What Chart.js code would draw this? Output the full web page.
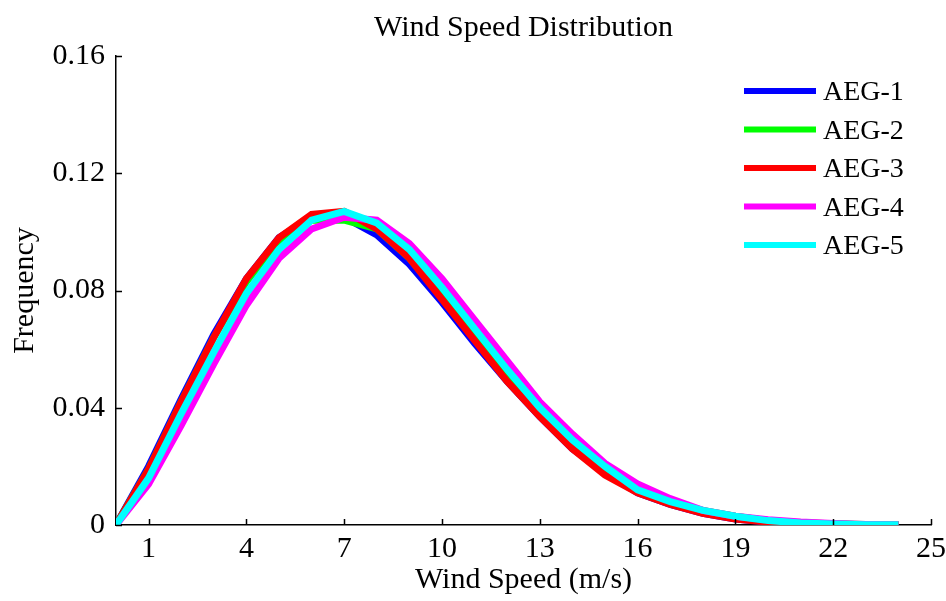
<!DOCTYPE html>
<html>
<head>
<meta charset="utf-8">
<script src="https://cdn.jsdelivr.net/npm/chart.js@4"></script>
<style>
  html, body { margin: 0; padding: 0; background: #fff; }
  #wrap { width: 946px; height: 601px; }
</style>
</head>
<body>
<div id="wrap"><canvas id="windChart" width="946" height="601"></canvas></div>
<script>
// ===== Data =====
const windSpeed = [0, 1, 2, 3, 4, 5, 6, 7, 8, 9, 10, 11, 12, 13, 14, 15, 16, 17, 18, 19, 20, 21, 22, 23, 24];
const aeg1 = [0, 0.020, 0.043, 0.065, 0.084, 0.098, 0.105, 0.105, 0.099, 0.089, 0.076, 0.062, 0.049, 0.037, 0.026, 0.018, 0.011, 0.007, 0.004, 0.002, 0.001, 0.0006, 0.0003, 0.0001, 0.0001];
const aeg2 = [0, 0.019, 0.042, 0.064, 0.083, 0.097, 0.104, 0.104, 0.101, 0.091, 0.078, 0.064, 0.051, 0.039, 0.028, 0.019, 0.013, 0.008, 0.005, 0.003, 0.0015, 0.0008, 0.0004, 0.0002, 0.0001];
const aeg3 = [0, 0.019, 0.042, 0.064, 0.084, 0.098, 0.106, 0.107, 0.101, 0.091, 0.077, 0.063, 0.049, 0.037, 0.026, 0.017, 0.011, 0.007, 0.004, 0.002, 0.001, 0.0005, 0.0002, 0.0001, 0];
const aeg4 = [0, 0.014, 0.034, 0.055, 0.075, 0.091, 0.101, 0.105, 0.104, 0.096, 0.084, 0.070, 0.056, 0.042, 0.031, 0.021, 0.014, 0.009, 0.005, 0.003, 0.0018, 0.001, 0.0005, 0.0002, 0.0001];
const aeg5 = [0, 0.016, 0.038, 0.059, 0.079, 0.094, 0.104, 0.107, 0.103, 0.094, 0.081, 0.067, 0.053, 0.040, 0.029, 0.020, 0.012, 0.008, 0.005, 0.003, 0.0015, 0.0007, 0.0003, 0.0001, 0.0001];

const seriesNames = ["AEG-1", "AEG-2", "AEG-3", "AEG-4", "AEG-5"];
const seriesData = [aeg1, aeg2, aeg3, aeg4, aeg5];
const seriesColors = ["#0000ff", "#00ff00", "#ff0000", "#ff00ff", "#00ffff"];

const xTicks = [1, 4, 7, 10, 13, 16, 19, 22, 25];
const yTicks = [0, 0.04, 0.08, 0.12, 0.16];

const serif = "'Liberation Serif', 'Times New Roman', serif";

// ===== Datasets =====
const datasets = seriesData.map((vals, i) => ({
  label: seriesNames[i],
  data: vals.map((v, j) => ({ x: windSpeed[j], y: v })),
  borderColor: seriesColors[i],
  backgroundColor: seriesColors[i],
  borderWidth: 7,
  pointRadius: 0,
  tension: 0,
  fill: false,
  order: seriesNames.length - i   // last series drawn on top
}));

// Title, inward ticks and legend drawn on the canvas
const decorPlugin = {
  id: "decor",
  afterDraw(chart) {
    const c = chart.ctx;
    const area = chart.chartArea;
    const xs = chart.scales.x;
    const ys = chart.scales.y;

    c.save();
    // title
    c.fillStyle = "#000";
    c.font = "30px " + serif;
    c.textAlign = "center";
    c.textBaseline = "middle";
    c.fillText("Wind Speed Distribution", (area.left + area.right) / 2, 28);

    // inward ticks
    c.strokeStyle = "#000";
    c.lineWidth = 1.5;
    c.beginPath();
    xTicks.forEach(v => {
      const px = Math.round(xs.getPixelForValue(v)) + 0.5;
      c.moveTo(px, area.bottom);
      c.lineTo(px, area.bottom - 6);
    });
    yTicks.forEach(v => {
      const py = Math.round(ys.getPixelForValue(v)) + 0.5;
      c.moveTo(area.left, py);
      c.lineTo(area.left + 6, py);
    });
    c.stroke();

    // legend
    c.font = "28px " + serif;
    c.textAlign = "left";
    c.textBaseline = "middle";
    seriesNames.forEach((name, i) => {
      const y = 91 + i * 38.5;
      c.strokeStyle = seriesColors[i];
      c.lineWidth = 6;
      c.beginPath();
      c.moveTo(744, y);
      c.lineTo(816, y);
      c.stroke();
      c.fillStyle = "#000";
      c.fillText(name, 823, y + 2);
    });
    c.restore();
  }
};

const ctx = document.getElementById("windChart").getContext("2d");
const windChart = new Chart(ctx, {
  type: "line",
  data: { datasets },
  options: {
    responsive: false,
    animation: false,
    layout: { padding: { top: 56, right: 15, left: 0, bottom: 0 } },
    plugins: {
      legend: { display: false },
      title: { display: false },
      tooltip: { enabled: false }
    },
    scales: {
      x: {
        type: "linear",
        min: 0,
        max: 25,
        afterBuildTicks: axis => { axis.ticks = xTicks.map(v => ({ value: v })); },
        afterFit: axis => {
          axis.height = 76;
          axis.paddingLeft = 0;
          axis.paddingRight = 0;
        },
        grid: { drawOnChartArea: false, drawTicks: false },
        border: { color: "#000", width: 1.5 },
        ticks: {
          color: "#000",
          padding: 6,
          maxRotation: 0,
          autoSkip: false,
          font: { family: serif, size: 30 },
          callback: v => String(v)
        },
        title: {
          display: true,
          text: "Wind Speed (m/s)",
          color: "#000",
          padding: { top: 0, bottom: 3 },
          font: { family: serif, size: 30 }
        }
      },
      y: {
        min: 0,
        max: 0.16,
        afterBuildTicks: axis => { axis.ticks = yTicks.map(v => ({ value: v })); },
        afterFit: axis => { axis.width = 116; },
        grid: { drawOnChartArea: false, drawTicks: false },
        border: { color: "#000", width: 1.5 },
        ticks: {
          color: "#000",
          padding: 11,
          font: { family: serif, size: 30 },
          callback: v => String(parseFloat(v.toFixed(2)))
        },
        title: {
          display: true,
          text: "Frequency",
          color: "#000",
          padding: { top: 7, bottom: 0 },
          font: { family: serif, size: 30 }
        }
      }
    }
  },
  plugins: [decorPlugin]
});
</script>
</body>
</html>
